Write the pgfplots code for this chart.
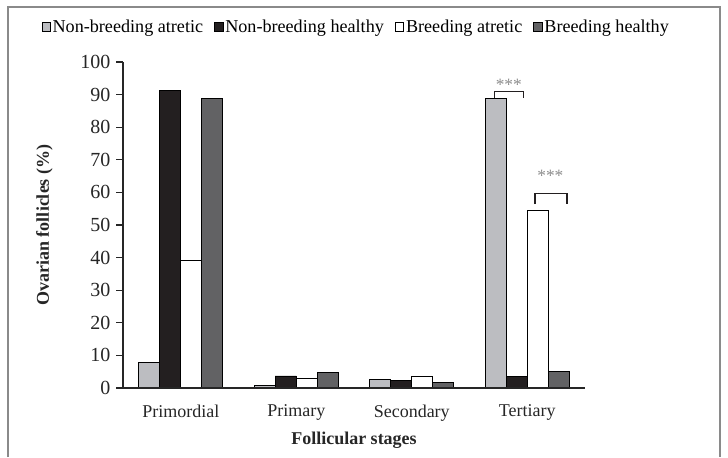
\documentclass[border=0pt]{standalone}
\usepackage{pgfplots}
\pgfplotsset{compat=1.18}
\usepackage{fontspec}
\setmainfont{Liberation Serif}
\definecolor{lgray}{HTML}{BCBDC1}
\definecolor{blk}{HTML}{231F20}
\definecolor{dgray}{HTML}{626264}
\definecolor{frame}{HTML}{8A8A8A}
\definecolor{star}{HTML}{8C8C8C}
\begin{document}
\begin{tikzpicture}
\path[use as bounding box] (0,0) rectangle (546pt,-342.75pt);
\draw[frame, line width=1.1pt] (6pt,-342.75pt) -- (6pt,-5.25pt) -- (540pt,-5.25pt) -- (540pt,-342.75pt);
\begin{axis}[
  at={(92.25pt,-291pt)}, anchor=south west,
  scale only axis, width=346.5pt, height=244.5pt,
  xmin=-0.5, xmax=3.5, ymin=0, ymax=100,
  axis on top,
  axis x line*=bottom, axis y line*=left,
  axis line style={line width=0.9pt, color=black!85},
  ybar=0pt, bar width=0.182,
  xtick={0,1,2,3}, xticklabels={Primordial,Primary,Secondary,Tertiary},
  x tick style={draw=none},
  ytick={0,10,...,100},
  y tick style={line width=0.8pt, color=black!85},
  tick align=outside, major tick length=5pt,
  /pgf/number format/assume math mode=true,
  xticklabel style={font=\fontsize{13.5}{15}\selectfont, color=black!85, yshift=-4pt},
  yticklabel style={font=\fontsize{15}{17}\selectfont, color=black!85, xshift=-1pt},
  xlabel={\textbf{Follicular stages}},
  ylabel={\textbf{Ovarian follicles (\%)}},
  label style={font=\fontsize{13.5}{16}\selectfont, color=black!85},
  x label style={at={(axis description cs:0.5,-0.16)}, anchor=center},
  y label style={at={(axis description cs:-0.17,0.5)}, anchor=center},
  legend columns=4,
  legend style={at={(axis description cs:0.503,1.107)}, anchor=center, draw=none, fill=none,
    font=\fontsize{13.6}{16}\selectfont, column sep=0pt,
    nodes={inner xsep=0.3pt, inner ysep=2pt},
    /tikz/every odd column/.append style={column sep=1pt},
    /tikz/every even column/.append style={column sep=8pt}},
  legend cell align=left,
  legend image code/.code={\draw[#1, line width=0.6pt] (0pt,-3.2pt) rectangle (6.4pt,3.2pt);},
  every axis plot/.append style={draw=black, line width=0.6pt},
  clip=false,
]
\addplot[fill=lgray] coordinates {(0,7.9) (1,0.9) (2,2.6) (3,88.9)};
\addplot[fill=blk] coordinates {(0,91.4) (1,3.7) (2,2.3) (3,3.5)};
\addplot[fill=white] coordinates {(0,39.2) (1,2.9) (2,3.6) (3,54.6)};
\addplot[fill=dgray] coordinates {(0,88.9) (1,4.8) (2,1.8) (3,5.0)};
\legend{Non-breeding atretic, Non-breeding healthy, Breeding atretic, Breeding healthy}
\draw[blk, line width=0.8pt] (axis cs:2.715,89.0) -- (axis cs:2.715,90.9) -- (axis cs:2.97,90.9) -- (axis cs:2.97,89.0);
\node[star, font=\fontsize{13}{14}\selectfont] at (axis cs:2.84,93.0) {***};
\draw[blk, line width=0.8pt] (axis cs:3.067,56.4) -- (axis cs:3.067,59.7) -- (axis cs:3.344,59.7) -- (axis cs:3.344,56.4);
\node[star, font=\fontsize{13}{14}\selectfont] at (axis cs:3.2,65.0) {***};
\end{axis}
\end{tikzpicture}
\end{document}
